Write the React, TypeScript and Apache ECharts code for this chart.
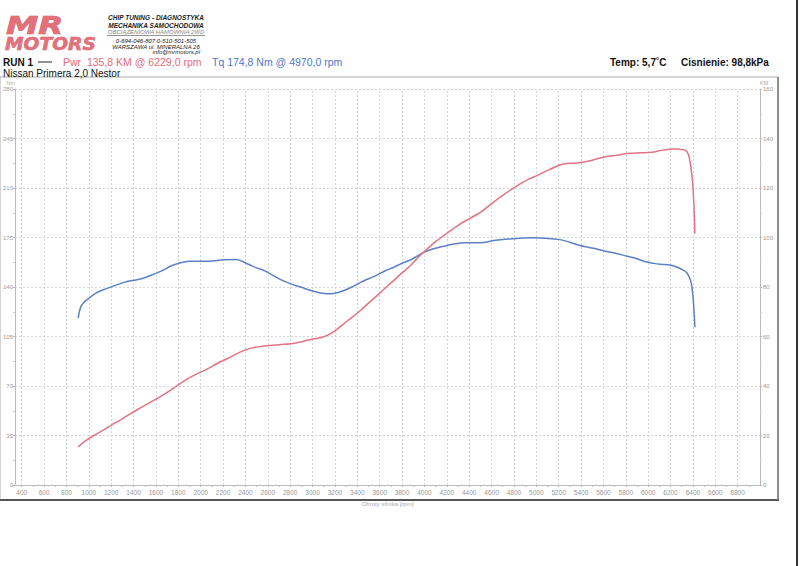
import React, { useEffect, useRef } from "react";
import * as echarts from "echarts";

const torqueRpm = [905, 935, 995, 1060, 1113, 1232, 1351, 1470, 1588, 1680, 1737, 1830, 1915, 2064, 2212, 2316, 2420, 2500, 2568, 2702, 2806, 2900, 2985, 3060, 3133, 3200, 3281, 3360, 3430, 3500, 3579, 3650, 3727, 3800, 3876, 3940, 3995, 4080, 4173, 4262, 4380, 4500, 4619, 4767, 4880, 4970, 5080, 5212, 5300, 5391, 5470, 5540, 5610, 5700, 5800, 5880, 5970, 6050, 6120, 6193, 6260, 6300, 6342, 6370, 6386, 6400, 6410, 6418];
const torqueNm = [118, 127, 131.7, 135.5, 137.5, 141, 144, 145.8, 149.3, 152.5, 155, 157.3, 158.2, 158.2, 159.2, 159.4, 156.3, 153.5, 151.6, 145.8, 142.2, 139.8, 137.5, 136, 135.2, 135.6, 137.5, 140.3, 143.3, 145.8, 148.6, 151.5, 154, 156.8, 159.2, 162, 164.5, 167, 168.8, 170.4, 171.2, 171.2, 172.8, 174, 174.6, 174.8, 174.5, 173.5, 171.6, 169.3, 168, 166.9, 165.5, 164, 162, 160.5, 158, 156.7, 156, 155.5, 154, 152.5, 150.4, 146.5, 142.5, 134, 123, 111.5];

const powerRpm = [905, 960, 1053, 1130, 1202, 1280, 1351, 1440, 1529, 1620, 1707, 1800, 1886, 1980, 2064, 2150, 2242, 2320, 2390, 2460, 2539, 2620, 2702, 2806, 2900, 2985, 3060, 3133, 3200, 3281, 3360, 3430, 3500, 3579, 3650, 3727, 3800, 3876, 3950, 4025, 4100, 4173, 4250, 4321, 4410, 4500, 4590, 4678, 4770, 4856, 4930, 5005, 5120, 5242, 5361, 5460, 5599, 5700, 5837, 5940, 6030, 6120, 6193, 6229, 6290, 6330, 6360, 6380, 6398, 6410, 6418];
const powerKm = [15.4, 17.5, 20.2, 22.2, 24.2, 26.2, 28.2, 30.6, 32.9, 35.2, 37.6, 40.5, 43, 45.2, 47, 49.2, 51.1, 53, 54.4, 55.4, 56, 56.4, 56.7, 57.1, 57.9, 58.8, 59.4, 60.5, 62.3, 65.2, 68, 70.6, 73.5, 76.6, 79.6, 82.7, 85.7, 88.7, 92.2, 95.4, 98.3, 100.8, 103.3, 105.5, 107.8, 110.2, 113.3, 116.3, 119.2, 121.7, 123.5, 125, 127.5, 129.7, 130.1, 130.8, 132.4, 133.1, 134, 134.2, 134.4, 135.2, 135.7, 135.8, 135.6, 135.3, 133.5, 129, 122, 112, 101.5];

const rpmLabels = [400, 600, 800, 1000, 1200, 1400, 1600, 1800, 2000, 2200, 2400, 2600, 2800, 3000, 3200, 3400, 3600, 3800, 4000, 4200, 4400, 4600, 4800, 5000, 5200, 5400, 5600, 5800, 6000, 6200, 6400, 6600, 6800];
const rpmTicks = [400, 500, 600, 700, 800, 900, 1000, 1100, 1200, 1300, 1400, 1500, 1600, 1700, 1800, 1900, 2000, 2100, 2200, 2300, 2400, 2500, 2600, 2700, 2800, 2900, 3000, 3100, 3200, 3300, 3400, 3500, 3600, 3700, 3800, 3900, 4000, 4100, 4200, 4300, 4400, 4500, 4600, 4700, 4800, 4900, 5000, 5100, 5200, 5300, 5400, 5500, 5600, 5700, 5800, 5900, 6000, 6100, 6200, 6300, 6400, 6500, 6600, 6700, 6800, 6900];

const headerLines = ["CHIP TUNING - DIAGNOSTYKA", "MECHANIKA SAMOCHODOWA", "OBCIĄŻENIOWA HAMOWNIA 2WD", "0-694-046-807 0-510-501-505", "WARSZAWA ul. MINERALNA 26", "info@mrmotors.pl"];

const RED = "#e27383";
const BLUE = "#5b80c6";
const FONT = '"Liberation Sans", Arial, sans-serif';

export default function App() {
  const ref = useRef<HTMLDivElement>(null);
  useEffect(() => {
    if (!ref.current) return;
    const chart = echarts.init(ref.current, null, { renderer: "svg" });
    const torqueData = torqueRpm.map((r, i) => [r, torqueNm[i]]);
    const powerData = powerRpm.map((r, i) => [r, powerKm[i]]);
    const headerY = [17, 25, 32, 41, 46.5, 52];
    const graphic: any[] = [
      { type: "rect", shape: { x: 0, y: 77, width: 778, height: 423 }, style: { fill: "none", stroke: "#aaa", lineWidth: 1 }, silent: true, z: 0 },
      { type: "line", shape: { x1: 0, y1: 500, x2: 779, y2: 500 }, style: { stroke: "#555", lineWidth: 2 }, silent: true },
      { type: "line", shape: { x1: 778, y1: 77, x2: 778, y2: 500 }, style: { stroke: "#777", lineWidth: 1.5 }, silent: true },
      { type: "line", shape: { x1: 797, y1: 0, x2: 797, y2: 566 }, style: { stroke: "#333", lineWidth: 2 }, silent: true },
      { type: "text", x: 6, y: 13, scaleX: 1.3, style: { text: "MR", fill: "#e4707a", stroke: "#b84a56", lineWidth: 0.6, font: 'italic 900 25px "DejaVu Sans", sans-serif', textVerticalAlign: "top" } },
      { type: "text", x: 5, y: 35, scaleX: 1.1, style: { text: "MOTORS", fill: "#e4707a", stroke: "#b84a56", lineWidth: 0.5, font: 'italic 900 17px "DejaVu Sans", sans-serif', textVerticalAlign: "top" } },
      { type: "line", shape: { x1: 107, y1: 35.5, x2: 205, y2: 35.5 }, style: { stroke: "#666", lineWidth: 0.7 } },
      { type: "text", x: 3, y: 62, style: { text: "RUN 1", fill: "#111", font: "bold 10px " + FONT, textVerticalAlign: "middle" } },
      { type: "line", shape: { x1: 38, y1: 62, x2: 52, y2: 62 }, style: { stroke: "#222", lineWidth: 1 } },
      { type: "text", x: 63, y: 62, style: { text: "Pwr  135,8 KM @ 6229,0 rpm", fill: "#e56b7b", font: "10.5px " + FONT, textVerticalAlign: "middle" } },
      { type: "text", x: 212, y: 62, style: { text: "Tq 174,8 Nm @ 4970,0 rpm", fill: "#4e78c8", font: "10.5px " + FONT, textVerticalAlign: "middle" } },
      { type: "text", x: 3, y: 73, style: { text: "Nissan Primera 2,0 Nestor", fill: "#111", font: "10px " + FONT, textVerticalAlign: "middle" } },
      { type: "text", x: 610, y: 62, style: { text: "Temp: 5,7˚C", fill: "#111", font: "bold 10px " + FONT, textVerticalAlign: "middle" } },
      { type: "text", x: 681, y: 62, style: { text: "Cisnienie: 98,8kPa", fill: "#111", font: "bold 10px " + FONT, textVerticalAlign: "middle" } },
    ];
    headerLines.forEach((t, i) => {
      graphic.push({
        type: "text",
        x: i === 5 ? 200 : 156,
        y: headerY[i],
        style: {
          text: t,
          fill: i === 2 ? "#888" : "#222",
          font: (i < 2 ? "italic bold 6.5px " : "italic 6px ") + FONT,
          textAlign: i === 5 ? "right" : "center",
          textVerticalAlign: "middle",
        },
      });
    });

    const option: any = {
      animation: false,
      backgroundColor: "#fff",
      graphic,
      grid: { left: 13, right: 40, top: 89, bottom: 81, containLabel: false },
      xAxis: {
        type: "value",
        min: 340,
        max: 7000,
        name: "Obroty silnika [rpm]",
        nameLocation: "middle",
        nameGap: 12,
        nameTextStyle: { color: "#aaa", fontSize: 6, fontFamily: FONT },
        axisLine: { lineStyle: { color: "#bbb" } },
        axisTick: { customValues: rpmTicks, length: 2, lineStyle: { color: "#bbb" } },
        axisLabel: { customValues: rpmLabels, color: "#999", fontSize: 6.5, fontFamily: FONT, margin: 4, formatter: (v: number) => String(v) },
        splitLine: { show: false },
      },
      yAxis: [
        {
          type: "value",
          min: 0,
          max: 280,
          interval: 35,
          name: "Nm",
          nameGap: 3,
          nameTextStyle: { color: "#aaa", fontSize: 5.5, fontFamily: FONT, align: "right" },
          axisLine: { show: true, lineStyle: { color: "#bbb" } },
          axisTick: { show: true, length: 2, lineStyle: { color: "#bbb" } },
          minorTick: { show: true, splitNumber: 2, length: 2, lineStyle: { color: "#ccc" } },
          axisLabel: { color: "#999", fontSize: 6, fontFamily: FONT, margin: 2 },
          splitLine: { show: true, lineStyle: { color: "#ccc", type: [2, 2], width: 0.8 } },
        },
        {
          type: "value",
          min: 0,
          max: 160,
          interval: 20,
          position: "right",
          name: "KM",
          nameGap: 3,
          nameTextStyle: { color: "#aaa", fontSize: 5.5, fontFamily: FONT, align: "left" },
          axisLine: { show: true, lineStyle: { color: "#bbb" } },
          axisTick: { show: true, length: 2, lineStyle: { color: "#bbb" } },
          minorTick: { show: true, splitNumber: 2, length: 2, lineStyle: { color: "#ccc" } },
          axisLabel: { color: "#999", fontSize: 6, fontFamily: FONT, margin: 3 },
          splitLine: { show: false },
        },
      ],
      series: [
        {
          type: "line",
          name: "grid",
          data: [],
          silent: true,
          markLine: {
            silent: true,
            symbol: "none",
            label: { show: false },
            lineStyle: { color: "#ccc", type: [2, 2], width: 0.8 },
            data: rpmLabels.map((v) => ({ xAxis: v })),
          },
        },
        {
          type: "line",
          name: "Tq",
          yAxisIndex: 0,
          data: torqueData,
          smooth: 0.4,
          showSymbol: false,
          lineStyle: { color: BLUE, width: 1.5 },
          z: 5,
        },
        {
          type: "line",
          name: "Pwr",
          yAxisIndex: 1,
          data: powerData,
          smooth: 0.4,
          showSymbol: false,
          lineStyle: { color: RED, width: 1.5 },
          z: 5,
        },
      ],
    };
    chart.setOption(option);
    return () => chart.dispose();
  }, []);
  return (
    <div
      ref={ref}
      style={{ position: "fixed", left: 0, top: 0, width: 800, height: 566, background: "#fff" }}
    />
  );
}
